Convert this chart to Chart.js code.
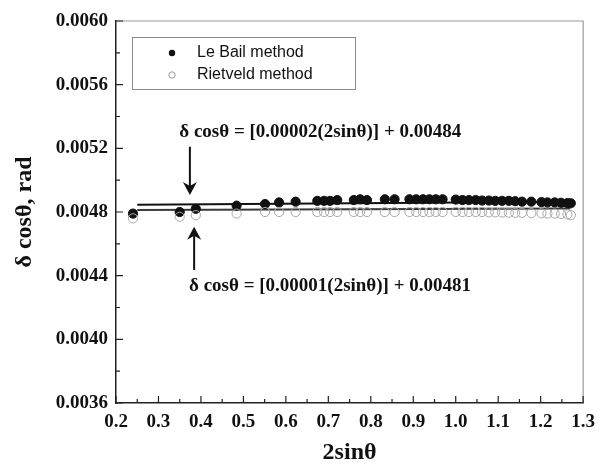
<!DOCTYPE html>
<html lang="en">
<head>
<meta charset="UTF-8">
<title>δ cosθ vs 2sinθ</title>
<script src="https://cdn.jsdelivr.net/npm/chart.js"></script>
<style>
  html, body { margin: 0; padding: 0; background: #fff; }
</style>
</head>
<body>
<canvas id="chart" width="603" height="465"></canvas>
<script>
// values
const xValues = [0.24, 0.35, 0.388, 0.484, 0.551, 0.584, 0.623, 0.674, 0.69, 0.704,
    0.721, 0.76, 0.775, 0.791, 0.833, 0.856, 0.891, 0.907, 0.923, 0.938,
    0.953, 0.969, 1.0, 1.016, 1.031, 1.047, 1.062, 1.078, 1.093, 1.109,
    1.125, 1.14, 1.156, 1.178, 1.202, 1.216, 1.233, 1.248, 1.263, 1.271];
const leBail = [0.00479, 0.00480, 0.00482, 0.00484, 0.00485, 0.00486, 0.004865, 0.00487, 0.00487, 0.00487,
    0.004875, 0.004875, 0.00488, 0.004875, 0.00488, 0.00488, 0.00488, 0.00488, 0.00488, 0.00488,
    0.00488, 0.00488, 0.004878, 0.004875, 0.004875, 0.004875, 0.004872, 0.004872, 0.00487, 0.00487,
    0.00487, 0.004868, 0.004865, 0.004865, 0.004862, 0.00486, 0.00486, 0.004858, 0.004856, 0.004855];
const rietveld = [0.00476, 0.00477, 0.00478, 0.00479, 0.00480, 0.00480, 0.00480, 0.00480, 0.00480, 0.00480,
    0.00480, 0.00480, 0.00480, 0.00480, 0.00480, 0.00480, 0.00480, 0.00480, 0.00480, 0.00480,
    0.00480, 0.00480, 0.00480, 0.00480, 0.00480, 0.00480, 0.00480, 0.004798, 0.004798, 0.004797,
    0.004796, 0.004795, 0.004795, 0.004793, 0.004792, 0.00479, 0.00479, 0.004788, 0.004785, 0.00478];

const fitX = [0.25, 1.27];
const leBailFit = [0.004845, 0.004865];
const rietveldFit = [0.0048125, 0.0048227];

const seriesNames = ['Le Bail method', 'Rietveld method'];
const equations = ['δ cosθ = [0.00002(2sinθ)] + 0.00484', 'δ cosθ = [0.00001(2sinθ)] + 0.00481'];

const serif = "'Liberation Serif', 'Times New Roman', serif";
const sans = "'Liberation Sans', Arial, sans-serif";

const toPoints = (xs, ys) => xs.map((x, i) => ({ x: x, y: ys[i] }));

// frame, inward ticks, legend box, equations and arrows
const extras = {
    id: 'extras',
    afterDraw(chart) {
        const { ctx, chartArea: a, scales: { x, y } } = chart;
        ctx.save();

        // top / right frame in grey
        ctx.strokeStyle = '#9a9a9a';
        ctx.lineWidth = 1.2;
        ctx.beginPath();
        ctx.moveTo(a.left, a.top);
        ctx.lineTo(a.right, a.top);
        ctx.lineTo(a.right, a.bottom);
        ctx.stroke();

        // ticks pointing inward, minor ones halfway
        ctx.strokeStyle = '#222';
        ctx.lineWidth = 1.2;
        ctx.beginPath();
        x.ticks.forEach((t, i) => {
            const px = x.getPixelForValue(t.value);
            ctx.moveTo(px, a.bottom); ctx.lineTo(px, a.bottom - 7);
            if (i < x.ticks.length - 1) {
                const mx = x.getPixelForValue((t.value + x.ticks[i + 1].value) / 2);
                ctx.moveTo(mx, a.bottom); ctx.lineTo(mx, a.bottom - 4);
            }
        });
        y.ticks.forEach((t, i) => {
            const py = y.getPixelForValue(t.value);
            ctx.moveTo(a.left, py); ctx.lineTo(a.left + 7, py);
            if (i < y.ticks.length - 1) {
                const my = y.getPixelForValue((t.value + y.ticks[i + 1].value) / 2);
                ctx.moveTo(a.left, my); ctx.lineTo(a.left + 4, my);
            }
        });
        ctx.stroke();

        // legend
        const lx = a.left + 16, ly = a.top + 16;
        ctx.strokeStyle = '#8c8c8c';
        ctx.lineWidth = 1;
        ctx.strokeRect(lx + 0.5, ly + 0.5, 223, 52);
        ctx.font = '16px ' + sans;
        ctx.textBaseline = 'middle';
        ctx.textAlign = 'left';
        seriesNames.forEach((name, i) => {
            const cy = ly + 16 + i * 22;
            ctx.beginPath();
            ctx.arc(lx + 40, cy, 3.2, 0, Math.PI * 2);
            if (i === 0) { ctx.fillStyle = '#111'; ctx.fill(); }
            else { ctx.strokeStyle = '#999'; ctx.lineWidth = 1; ctx.stroke(); }
            ctx.fillStyle = '#111';
            ctx.fillText(name, lx + 65, cy);
        });

        // equations
        ctx.font = 'bold 19px ' + serif;
        ctx.fillStyle = '#111';
        ctx.fillText(equations[0], x.getPixelForValue(0.349), y.getPixelForValue(0.005305));
        ctx.fillText(equations[1], x.getPixelForValue(0.372), y.getPixelForValue(0.004337));

        // arrows
        const arrow = (xv, y0, y1) => {
            const px = x.getPixelForValue(xv);
            const p0 = y.getPixelForValue(y0), p1 = y.getPixelForValue(y1);
            const dir = Math.sign(p1 - p0);
            ctx.strokeStyle = '#111';
            ctx.lineWidth = 2;
            ctx.beginPath();
            ctx.moveTo(px, p0);
            ctx.lineTo(px, p1 - dir * 8);
            ctx.stroke();
            ctx.beginPath();
            ctx.moveTo(px, p1);
            ctx.lineTo(px - 7, p1 - dir * 13);
            ctx.lineTo(px, p1 - dir * 9);
            ctx.lineTo(px + 7, p1 - dir * 13);
            ctx.closePath();
            ctx.fill();
        };
        arrow(0.374, 0.00521, 0.004907);
        arrow(0.384, 0.004436, 0.004708);

        ctx.restore();
    }
};

new Chart(document.getElementById('chart'), {
    type: 'scatter',
    data: {
        datasets: [
            {
                label: seriesNames[1],
                data: toPoints(xValues, rietveld),
                pointRadius: 4.6,
                pointBackgroundColor: 'rgba(255,255,255,0)',
                pointBorderColor: '#a8a8a8',
                pointBorderWidth: 1,
                order: 1
            },
            {
                label: seriesNames[0],
                data: toPoints(xValues, leBail),
                pointRadius: 4.6,
                pointBackgroundColor: '#111',
                pointBorderColor: '#111',
                pointBorderWidth: 1,
                order: 2
            },
            {
                label: 'Le Bail fit',
                type: 'line',
                data: toPoints(fitX, leBailFit),
                borderColor: '#111',
                borderWidth: 2,
                pointRadius: 0,
                order: 3
            },
            {
                label: 'Rietveld fit',
                type: 'line',
                data: toPoints(fitX, rietveldFit),
                borderColor: '#3a3a3a',
                borderWidth: 2,
                pointRadius: 0,
                order: 3
            }
        ]
    },
    options: {
        responsive: false,
        animation: false,
        layout: { padding: { top: 21, right: 14, left: 0, bottom: 0 } },
        plugins: {
            legend: { display: false },
            tooltip: { enabled: false }
        },
        scales: {
            x: {
                type: 'linear',
                min: 0.2,
                max: 1.3,
                afterFit: s => { s.height = 62; },
                grid: { display: false, drawTicks: false },
                border: { display: true, color: '#222', width: 1.5 },
                ticks: {
                    stepSize: 0.1,
                    padding: 8,
                    color: '#111',
                    font: { family: serif, size: 19, weight: 'bold' },
                    callback: v => v.toFixed(1)
                },
                title: {
                    display: true,
                    text: '2sinθ',
                    color: '#111',
                    padding: 0,
                    font: { family: serif, size: 24, weight: 'bold', lineHeight: 1 }
                }
            },
            y: {
                min: 0.0036,
                max: 0.0060,
                afterFit: s => { s.width = 116; },
                grid: { display: false, drawTicks: false },
                border: { display: true, color: '#222', width: 1.5 },
                ticks: {
                    stepSize: 0.0004,
                    padding: 8,
                    color: '#111',
                    font: { family: serif, size: 19, weight: 'bold' },
                    callback: v => v.toFixed(4)
                },
                title: {
                    display: true,
                    text: 'δ cosθ, rad',
                    color: '#111',
                    padding: { top: 13, bottom: 0 },
                    font: { family: serif, size: 24, weight: 'bold', lineHeight: 1 }
                }
            }
        }
    },
    plugins: [extras]
});
</script>
</body>
</html>
